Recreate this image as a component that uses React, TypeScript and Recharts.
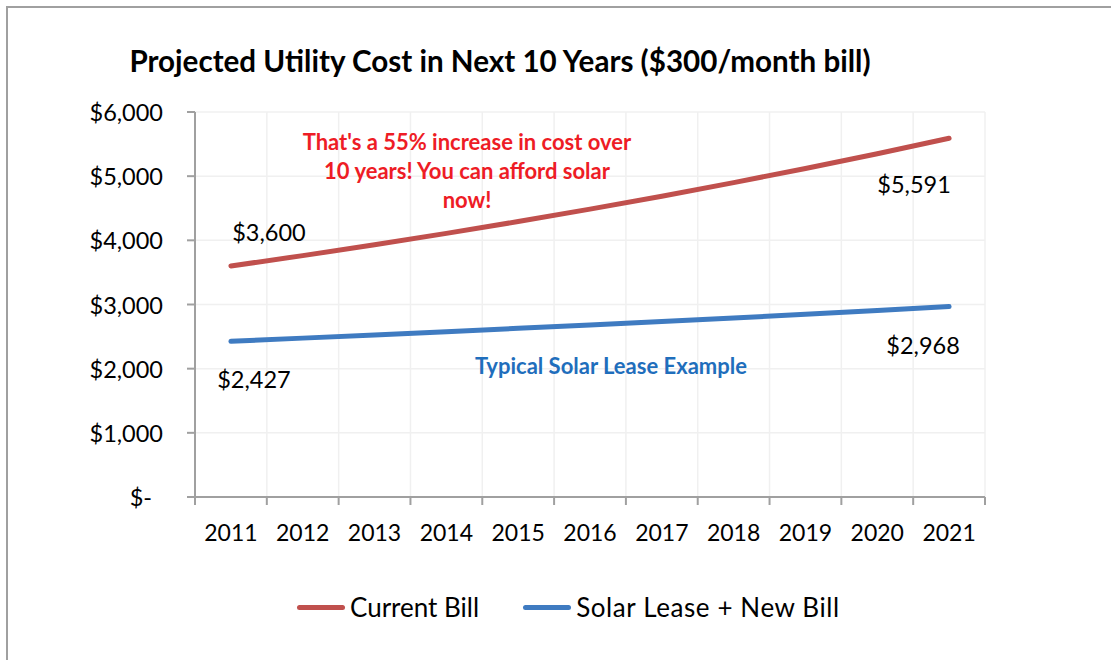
import React from 'react';
import {
  LineChart,
  Line,
  XAxis,
  YAxis,
  CartesianGrid,
  Legend,
  LabelList,
  Customized,
} from 'recharts';

const years = ['2011', '2012', '2013', '2014', '2015', '2016', '2017', '2018', '2019', '2020', '2021'];
const currentBill = [3600, 3762, 3931, 4108, 4293, 4486, 4688, 4899, 5120, 5350, 5591];
const solarLease = [2427, 2476, 2526, 2577, 2629, 2682, 2736, 2791, 2847, 2905, 2968];
const yTicks = [0, 1000, 2000, 3000, 4000, 5000, 6000];

const data = years.map((year, i) => ({
  year,
  current: currentBill[i],
  solar: solarLease[i],
}));

const FONT = 'Lato, "Open Sans", sans-serif';
const RED = '#C0504D';
const BLUE = '#3F7BC1';
const AXIS = '#a0a0a0';
const GRID = '#f0f0f0';
const PLOT_W = 790;
const HALF_BAND = PLOT_W / years.length / 2;

const money = (v: number) => (v === 0 ? '$-' : '$' + v.toLocaleString('en-US'));

const YTick = (props: any) => {
  const { x, y, payload } = props;
  const v = payload.value;
  return (
    <text
      x={v === 0 ? x - 11 : x}
      y={y}
      textAnchor="end"
      dominantBaseline="central"
      fontFamily={FONT}
      fontSize={23.5}
      fill="#000"
    >
      {money(v)}
    </text>
  );
};

const XTick = (props: any) => {
  const { x, y, payload, index } = props;
  return (
    <g>
      <line x1={x - HALF_BAND} x2={x - HALF_BAND} y1={y} y2={y + 8} stroke={AXIS} strokeWidth={2} />
      {index === years.length - 1 && (
        <line x1={x + HALF_BAND} x2={x + HALF_BAND} y1={y} y2={y + 8} stroke={AXIS} strokeWidth={2} />
      )}
      <text
        x={x}
        y={y + 35}
        textAnchor="middle"
        dominantBaseline="central"
        fontFamily={FONT}
        fontSize={23}
        fill="#000"
      >
        {payload.value}
      </text>
    </g>
  );
};

// first/last point labels, nudged like the original
const endLabel = (first: [number, number], last: [number, number]) => (props: any) => {
  const { x, y, value, index } = props;
  let off: [number, number] | null = null;
  if (index === 0) off = first;
  if (index === years.length - 1) off = last;
  if (!off) return null;
  return (
    <text
      x={x + off[0]}
      y={y + off[1]}
      textAnchor="middle"
      dominantBaseline="central"
      fontFamily={FONT}
      fontSize={23.5}
      fill="#000"
    >
      {money(value)}
    </text>
  );
};

const Annotations = () => (
  <g fontFamily={FONT}>
    <text x={492} y={52} textAnchor="middle" dominantBaseline="central" fontSize={29.6} fontWeight={700} fill="#000">
      Projected Utility Cost in Next 10 Years ($300/month bill)
    </text>
    <g fontSize={22} fontWeight={700} fill="#EE1C25" textAnchor="middle">
      <text x={459} y={133} dominantBaseline="central">That's a 55% increase in cost over</text>
      <text x={459} y={162} dominantBaseline="central">10 years! You can afford solar</text>
      <text x={459} y={191} dominantBaseline="central">now!</text>
    </g>
    <text x={603} y={357} textAnchor="middle" dominantBaseline="central" fontSize={22} fontWeight={700} fill="#1F6EBC">
      Typical Solar Lease Example
    </text>
  </g>
);

const LegendContent = (props: any) => {
  const { payload } = props;
  return (
    <div style={{ display: 'flex', alignItems: 'center', height: 30, paddingLeft: 289, fontFamily: FONT, fontSize: 26 }}>
      {payload.map((p: any, i: number) => (
        <div key={p.value} style={{ display: 'flex', alignItems: 'center', marginRight: i === 0 ? 44 : 0 }}>
          <span style={{ display: 'inline-block', width: 48, height: 5, borderRadius: 3, background: p.color, marginRight: 5 }} />
          <span style={{ letterSpacing: i === 1 ? 0.6 : 0 }}>{p.value}</span>
        </div>
      ))}
    </div>
  );
};

export default function App() {
  const W = 1095;
  const H = 644;
  return (
    <div
      style={{
        position: 'absolute',
        left: 6,
        top: 6,
        width: W + 10,
        height: H + 10,
        borderLeft: `2px solid ${AXIS}`,
        borderTop: `2px solid ${AXIS}`,
        background: '#fff',
      }}
    >
      <LineChart width={W} height={H} data={data} margin={{ top: 104, right: 118, left: 0, bottom: 30 }}>
        <CartesianGrid
          stroke={GRID}
          strokeWidth={1.5}
          verticalCoordinatesGenerator={({ offset }: any) =>
            Array.from({ length: years.length + 1 }, (_, i) => offset.left + (i * offset.width) / years.length)
          }
        />
        <XAxis
          dataKey="year"
          height={95}
          padding={{ left: HALF_BAND, right: HALF_BAND }}
          tickSize={0}
          tickMargin={0}
          tickLine={false}
          axisLine={{ stroke: AXIS, strokeWidth: 2 }}
          tick={<XTick />}
          interval={0}
        />
        <YAxis
          width={187}
          domain={[0, 6000]}
          ticks={yTicks}
          tickSize={8}
          tickMargin={24}
          axisLine={{ stroke: AXIS, strokeWidth: 2 }}
          tickLine={{ stroke: AXIS, strokeWidth: 2 }}
          tick={<YTick />}
          interval={0}
        />
        <Legend
          verticalAlign="bottom"
          content={<LegendContent />}
          wrapperStyle={{ left: 0, width: W }}
        />
        <Line
          name="Current Bill"
          dataKey="current"
          stroke={RED}
          strokeWidth={5}
          strokeLinecap="round"
          dot={false}
          isAnimationActive={false}
        >
          <LabelList dataKey="current" content={endLabel([38, -34], [-35, 46])} />
        </Line>
        <Line
          name="Solar Lease + New Bill"
          dataKey="solar"
          stroke={BLUE}
          strokeWidth={5}
          strokeLinecap="round"
          dot={false}
          isAnimationActive={false}
        >
          <LabelList dataKey="solar" content={endLabel([23, 38], [-26, 38])} />
        </Line>
        <Customized component={Annotations} />
      </LineChart>
    </div>
  );
}
